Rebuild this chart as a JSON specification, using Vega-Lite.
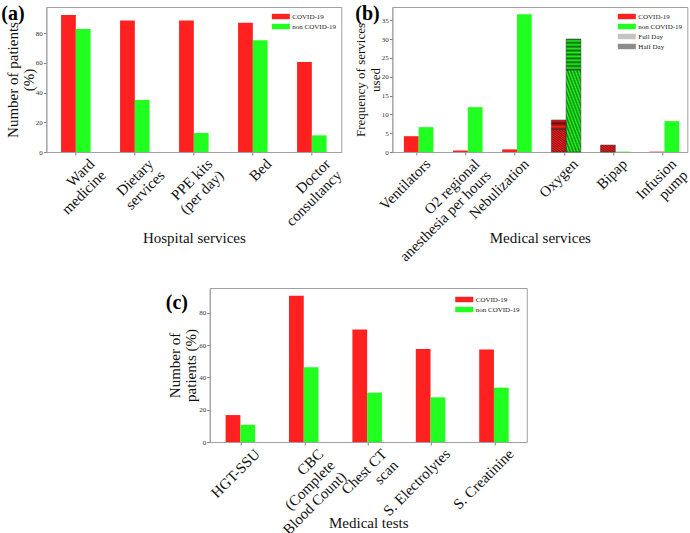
{
  "$schema": "https://vega.github.io/schema/vega-lite/v6.json",
  "padding": {"left": 0, "top": 3, "right": 0, "bottom": 0},
  "spacing": 22,
  "center": true,
  "resolve": {"scale": {"color": "independent", "y": "independent", "x": "independent"}, "legend": {"color": "independent"}},
  "config": {
    "font": "Liberation Serif",
    "view": {"stroke": "#a0a0a0", "strokeWidth": 1},
    "axis": {"labelFont": "Liberation Serif", "titleFont": "Liberation Serif", "domainColor": "#a0a0a0", "tickColor": "#808080", "tickSize": 3, "labelFontSize": 7, "labelColor": "#333333", "titleFontSize": 15, "titleFontWeight": "normal", "titleColor": "#111111", "grid": false},
    "axisX": {"labelAngle": -45, "labelFontSize": 15, "labelAlign": "right", "labelBaseline": "top", "labelPadding": 1, "labelOffset": 11, "labelLineHeight": 16, "labelColor": "#111111", "titleY": 78, "titleBaseline": "top"},
    "axisY": {"titlePadding": -1, "titleLineHeight": 16, "labelPadding": 1},
    "legend": {"orient": "top-right", "labelFontSize": 7, "labelFont": "Liberation Serif", "labelColor": "#222222", "symbolType": "M-2,-0.6H2V0.6H-2Z", "symbolSize": 81, "symbolStrokeWidth": 0, "symbolOpacity": 1, "rowPadding": 2, "offset": 5, "padding": 0, "labelOffset": 7},
    "title": {"font": "Liberation Serif", "fontSize": 20, "fontWeight": "bold", "anchor": "start", "frame": "group", "baseline": "top", "offset": 0, "color": "#000000"}
  },
  "vconcat": [
    {
      "spacing": 8,
      "resolve": {"scale": {"color": "independent", "y": "independent", "x": "independent"}, "legend": {"color": "independent"}},
      "hconcat": [
        {
          "width": 295,
          "height": 145,
          "title": {"text": "(a)", "dx": -45, "dy": 21},
          "data": {"values": [
            {"service": "Ward medicine", "group": "COVID-19", "value": 92.1},
            {"service": "Ward medicine", "group": "non COVID-19", "value": 82.7},
            {"service": "Dietary services", "group": "COVID-19", "value": 88.5},
            {"service": "Dietary services", "group": "non COVID-19", "value": 35.0},
            {"service": "PPE kits (per day)", "group": "COVID-19", "value": 88.5},
            {"service": "PPE kits (per day)", "group": "non COVID-19", "value": 12.8},
            {"service": "Bed", "group": "COVID-19", "value": 86.9},
            {"service": "Bed", "group": "non COVID-19", "value": 75.1},
            {"service": "Doctor consultancy", "group": "COVID-19", "value": 60.5},
            {"service": "Doctor consultancy", "group": "non COVID-19", "value": 11.2}
          ]},
          "mark": {"type": "bar"},
          "encoding": {
            "x": {"field": "service", "type": "nominal", "sort": null, "scale": {"paddingInner": 0.5, "paddingOuter": 0.25},
              "axis": {"title": "Hospital services", "labelExpr": "datum.label == 'Ward medicine' ? ['Ward\u00a0\u00a0\u00a0', 'medicine'] : datum.label == 'Dietary services' ? ['Dietary', 'services'] : datum.label == 'PPE kits (per day)' ? ['PPE kits', '(per day)'] : datum.label == 'Doctor consultancy' ? ['Doctor\u00a0\u00a0\u00a0\u00a0', 'consultancy'] : datum.label"}},
            "xOffset": {"field": "group", "type": "nominal"},
            "y": {"field": "value", "type": "quantitative", "scale": {"domain": [0, 97.5], "nice": false},
              "axis": {"title": ["Number of patients", "(%)"], "values": [0, 20, 40, 60, 80]}},
            "color": {"field": "group", "type": "nominal", "scale": {"domain": ["COVID-19", "non COVID-19"], "range": ["#ff2020", "#20ff20"]}, "legend": {"title": null}}
          }
        },
        {
          "width": 295,
          "height": 145,
          "title": {"text": "(b)", "dx": -37, "dy": 21},
          "data": {"values": [
            {"service": "Ventilators", "group": "COVID-19", "part": "Total", "value": 4.2},
            {"service": "Ventilators", "group": "non COVID-19", "part": "Total", "value": 6.6},
            {"service": "O2 regional anesthesia per hours", "group": "COVID-19", "part": "Total", "value": 0.4},
            {"service": "O2 regional anesthesia per hours", "group": "non COVID-19", "part": "Total", "value": 11.9},
            {"service": "Nebulization", "group": "COVID-19", "part": "Total", "value": 0.7},
            {"service": "Nebulization", "group": "non COVID-19", "part": "Total", "value": 36.6},
            {"service": "Oxygen", "group": "COVID-19", "part": "Full Day", "value": 6.0},
            {"service": "Oxygen", "group": "COVID-19", "part": "Half Day", "value": 2.5},
            {"service": "Oxygen", "group": "non COVID-19", "part": "Full Day", "value": 21.8},
            {"service": "Oxygen", "group": "non COVID-19", "part": "Half Day", "value": 8.2},
            {"service": "Bipap", "group": "COVID-19", "part": "Full Day", "value": 1.85},
            {"service": "Bipap", "group": "non COVID-19", "part": "Total", "value": 0.1},
            {"service": "Infusion pump", "group": "COVID-19", "part": "Total", "value": 0.1},
            {"service": "Infusion pump", "group": "non COVID-19", "part": "Total", "value": 8.2}
          ]},
          "encoding": {
            "x": {"field": "service", "type": "nominal", "sort": null, "scale": {"paddingInner": 0.47, "paddingOuter": 0.235},
              "axis": {"title": "Medical services", "labelOffset": 6, "labelExpr": "datum.label == 'O2 regional anesthesia per hours' ? ['O2 regional\u00a0\u00a0\u00a0\u00a0\u00a0\u00a0', 'anesthesia per hours'] : datum.label == 'Infusion pump' ? ['Infusion', 'pump\u00a0'] : datum.label"}},
            "xOffset": {"field": "group", "type": "nominal"},
            "y": {"field": "value", "type": "quantitative", "stack": "zero", "scale": {"domain": [0, 38.5], "nice": false},
              "axis": {"title": ["Frequency of services", "used"], "titleFontSize": 13, "titleLineHeight": 15, "values": [0, 5, 10, 15, 20, 25, 30, 35]}},
            "detail": {"field": "part"},
            "order": {"field": "part", "sort": "ascending"}
          },
          "layer": [
            {
              "mark": {"type": "bar"},
              "encoding": {
                "color": {"field": "group", "type": "nominal", "scale": {"domain": ["COVID-19", "non COVID-19", "Full Day", "Half Day"], "range": ["#ff2020", "#20ff20", "#c4c4c4", "#8c8c8c"]}, "legend": {"title": null}}
              }
            },
            {
              "transform": [{"filter": "datum.part !== 'Total'"}],
              "mark": {"type": "bar", "stroke": "#333333", "strokeWidth": 0.5},
              "encoding": {
                "fill": {
                  "condition": {"test": "datum.part === 'Full Day'", "value": {"gradient": "linear", "x1": 0, "y1": 0, "x2": 1, "y2": 1, "stops": [
                    {"offset": 0, "color": "rgba(0,0,0,0.5)"}, {"offset": 0.025, "color": "rgba(0,0,0,0)"}, {"offset": 0.05, "color": "rgba(0,0,0,0.5)"}, {"offset": 0.075, "color": "rgba(0,0,0,0)"},
                    {"offset": 0.1, "color": "rgba(0,0,0,0.5)"}, {"offset": 0.125, "color": "rgba(0,0,0,0)"}, {"offset": 0.15, "color": "rgba(0,0,0,0.5)"}, {"offset": 0.175, "color": "rgba(0,0,0,0)"},
                    {"offset": 0.2, "color": "rgba(0,0,0,0.5)"}, {"offset": 0.225, "color": "rgba(0,0,0,0)"}, {"offset": 0.25, "color": "rgba(0,0,0,0.5)"}, {"offset": 0.275, "color": "rgba(0,0,0,0)"},
                    {"offset": 0.3, "color": "rgba(0,0,0,0.5)"}, {"offset": 0.325, "color": "rgba(0,0,0,0)"}, {"offset": 0.35, "color": "rgba(0,0,0,0.5)"}, {"offset": 0.375, "color": "rgba(0,0,0,0)"},
                    {"offset": 0.4, "color": "rgba(0,0,0,0.5)"}, {"offset": 0.425, "color": "rgba(0,0,0,0)"}, {"offset": 0.45, "color": "rgba(0,0,0,0.5)"}, {"offset": 0.475, "color": "rgba(0,0,0,0)"},
                    {"offset": 0.5, "color": "rgba(0,0,0,0.5)"}, {"offset": 0.525, "color": "rgba(0,0,0,0)"}, {"offset": 0.55, "color": "rgba(0,0,0,0.5)"}, {"offset": 0.575, "color": "rgba(0,0,0,0)"},
                    {"offset": 0.6, "color": "rgba(0,0,0,0.5)"}, {"offset": 0.625, "color": "rgba(0,0,0,0)"}, {"offset": 0.65, "color": "rgba(0,0,0,0.5)"}, {"offset": 0.675, "color": "rgba(0,0,0,0)"},
                    {"offset": 0.7, "color": "rgba(0,0,0,0.5)"}, {"offset": 0.725, "color": "rgba(0,0,0,0)"}, {"offset": 0.75, "color": "rgba(0,0,0,0.5)"}, {"offset": 0.775, "color": "rgba(0,0,0,0)"},
                    {"offset": 0.8, "color": "rgba(0,0,0,0.5)"}, {"offset": 0.825, "color": "rgba(0,0,0,0)"}, {"offset": 0.85, "color": "rgba(0,0,0,0.5)"}, {"offset": 0.875, "color": "rgba(0,0,0,0)"},
                    {"offset": 0.9, "color": "rgba(0,0,0,0.5)"}, {"offset": 0.925, "color": "rgba(0,0,0,0)"}, {"offset": 0.95, "color": "rgba(0,0,0,0.5)"}, {"offset": 0.975, "color": "rgba(0,0,0,0)"},
                    {"offset": 1, "color": "rgba(0,0,0,0.5)"}
                  ]}},
                  "value": {"gradient": "linear", "x1": 0, "y1": 0, "x2": 0, "y2": 1, "stops": [
                    {"offset": 0, "color": "rgba(0,0,0,0.6)"}, {"offset": 0.0625, "color": "rgba(0,0,0,0.05)"}, {"offset": 0.125, "color": "rgba(0,0,0,0.6)"}, {"offset": 0.1875, "color": "rgba(0,0,0,0.05)"},
                    {"offset": 0.25, "color": "rgba(0,0,0,0.6)"}, {"offset": 0.3125, "color": "rgba(0,0,0,0.05)"}, {"offset": 0.375, "color": "rgba(0,0,0,0.6)"}, {"offset": 0.4375, "color": "rgba(0,0,0,0.05)"},
                    {"offset": 0.5, "color": "rgba(0,0,0,0.6)"}, {"offset": 0.5625, "color": "rgba(0,0,0,0.05)"}, {"offset": 0.625, "color": "rgba(0,0,0,0.6)"}, {"offset": 0.6875, "color": "rgba(0,0,0,0.05)"},
                    {"offset": 0.75, "color": "rgba(0,0,0,0.6)"}, {"offset": 0.8125, "color": "rgba(0,0,0,0.05)"}, {"offset": 0.875, "color": "rgba(0,0,0,0.6)"}, {"offset": 0.9375, "color": "rgba(0,0,0,0.05)"},
                    {"offset": 1, "color": "rgba(0,0,0,0.6)"}
                  ]}
                }
              }
            }
          ]
        }
      ]
    },
    {
      "width": 317,
      "height": 154,
      "title": {"text": "(c)", "dx": -44, "dy": 29},
      "data": {"values": [
        {"test": "HGT-SSU", "group": "COVID-19", "value": 16.7},
        {"test": "HGT-SSU", "group": "non COVID-19", "value": 10.7},
        {"test": "CBC (Complete Blood Count)", "group": "COVID-19", "value": 90.7},
        {"test": "CBC (Complete Blood Count)", "group": "non COVID-19", "value": 46.3},
        {"test": "Chest CT scan", "group": "COVID-19", "value": 69.7},
        {"test": "Chest CT scan", "group": "non COVID-19", "value": 30.6},
        {"test": "S. Electrolytes", "group": "COVID-19", "value": 57.7},
        {"test": "S. Electrolytes", "group": "non COVID-19", "value": 27.7},
        {"test": "S. Creatinine", "group": "COVID-19", "value": 57.3},
        {"test": "S. Creatinine", "group": "non COVID-19", "value": 33.7}
      ]},
      "mark": {"type": "bar"},
      "encoding": {
        "x": {"field": "test", "type": "nominal", "sort": null, "scale": {"paddingInner": 0.5, "paddingOuter": 0.25},
          "axis": {"title": "Medical tests", "titleY": 73, "labelExpr": "datum.label == 'CBC (Complete Blood Count)' ? ['CBC\u00a0\u00a0\u00a0\u00a0\u00a0\u00a0\u00a0', '(Complete\u00a0\u00a0\u00a0', 'Blood Count)'] : datum.label == 'Chest CT scan' ? ['Chest CT', 'scan\u00a0\u00a0\u00a0\u00a0'] : datum.label"}},
        "xOffset": {"field": "group", "type": "nominal"},
        "y": {"field": "value", "type": "quantitative", "scale": {"domain": [0, 95.5], "nice": false},
          "axis": {"title": ["Number of", "patients (%)"], "values": [0, 20, 40, 60, 80], "titlePadding": 0}},
        "color": {"field": "group", "type": "nominal", "scale": {"domain": ["COVID-19", "non COVID-19"], "range": ["#ff2020", "#20ff20"]}, "legend": {"title": null, "offset": 7}}
      }
    }
  ]
}
